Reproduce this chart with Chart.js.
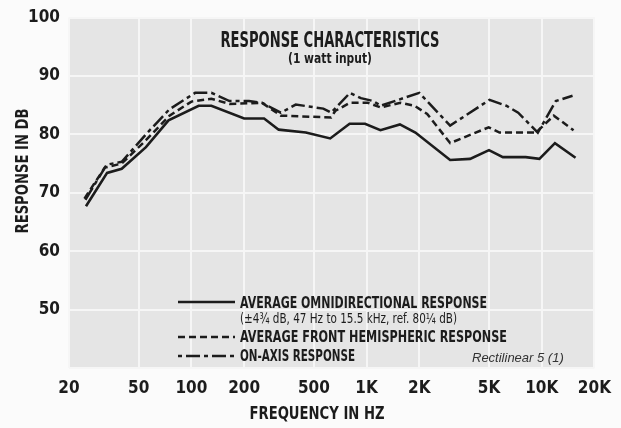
<!DOCTYPE html>
<html>
<head>
<meta charset="utf-8">
<script src="https://cdn.jsdelivr.net/npm/chart.js@4"></script>
<style>
  html, body { margin: 0; padding: 0; background: #fbfbfb; }
  #box { width: 621px; height: 428px; }
</style>
</head>
<body>
<div id="box"><canvas id="myChart" width="621" height="428"></canvas></div>
<script>
// frequency response
const omniFreq = [25, 33, 40, 55, 74, 110, 130, 200, 260, 315, 450, 620, 800, 980, 1200, 1550, 1900, 3000, 3900, 5000, 6000, 8100, 9700, 11900, 15600];
const omniDb   = [67.7, 73.4, 74.1, 77.8, 82.4, 84.9, 84.9, 82.7, 82.7, 80.8, 80.3, 79.3, 81.8, 81.8, 80.7, 81.7, 80.3, 75.6, 75.8, 77.3, 76.1, 76.1, 75.8, 78.5, 76.0];

const frontFreq = [24.5, 32, 40, 55, 75, 100, 130, 165, 253, 324, 628, 662, 804, 1017, 1204, 1562, 1874, 2218, 3000, 4980, 5740, 9280, 11720, 15200];
const frontDb   = [69.0, 74.3, 75.0, 79.0, 83.2, 85.6, 86.1, 85.2, 85.4, 83.2, 82.9, 84.0, 85.4, 85.4, 84.6, 85.4, 84.9, 83.5, 78.5, 81.2, 80.3, 80.3, 83.2, 80.7];

const axisFreq = [24.8, 32.8, 40, 55, 75, 105, 130, 165, 213, 253, 324, 394, 566, 628, 804, 928, 1092, 1204, 2000, 3000, 5036, 6280, 7340, 9500, 12040, 15000];
const axisDb   = [68.8, 74.8, 75.3, 80.0, 84.3, 87.1, 87.1, 85.7, 85.7, 85.4, 83.7, 85.1, 84.4, 83.7, 87.1, 86.2, 85.7, 84.9, 87.1, 81.5, 85.9, 84.9, 83.7, 80.3, 85.7, 86.6];

const xTicks = [20, 50, 100, 200, 500, 1000, 2000, 5000, 10000, 20000];
const xTickLabels = ['20', '50', '100', '200', '500', '1K', '2K', '5K', '10K', '20K'];

const ink = '#1c1c1c';
const narrow = '"Liberation Sans Narrow", "DejaVu Sans Condensed", sans-serif';

function punti(fr, db){
    let out = [];
    for(let i = 0; i < fr.length; i++){
        out.push({x: fr[i], y: db[i]});
    }
    return out;
}

// gray paper behind the grid
const sfondo = {
    id: 'sfondo',
    beforeDraw(chart){
        const {ctx, chartArea: a} = chart;
        ctx.save();
        ctx.fillStyle = '#e5e5e5';
        ctx.fillRect(a.left, a.top, a.right - a.left, a.bottom - a.top);
        ctx.restore();
    }
};

// titles, axis titles and the in-plot key
const scritte = {
    id: 'scritte',
    afterDatasetsDraw(chart){
        const ctx = chart.ctx;
        ctx.save();
        ctx.fillStyle = ink;
        ctx.textBaseline = 'alphabetic';

        ctx.textAlign = 'center';
        ctx.font = 'bold 22px ' + narrow;
        ctx.fillText('RESPONSE CHARACTERISTICS', 330, 47, 219);
        ctx.font = 'bold 14px ' + narrow;
        ctx.fillText('(1 watt input)', 330, 63, 84);

        ctx.font = 'bold 18px ' + narrow;
        ctx.fillText('FREQUENCY IN HZ', 317, 419, 135);

        ctx.save();
        ctx.translate(28, 171);
        ctx.rotate(-Math.PI / 2);
        ctx.fillText('RESPONSE IN DB', 0, 0, 125);
        ctx.restore();

        // key
        ctx.textAlign = 'left';
        ctx.font = 'bold 15px ' + narrow;
        ctx.fillText('AVERAGE OMNIDIRECTIONAL RESPONSE', 240, 308, 247);
        ctx.font = '14px ' + narrow;
        ctx.fillText('(\u00b14\u00be dB, 47 Hz to 15.5 kHz, ref. 80\u00bc dB)', 240, 323, 217);
        ctx.font = 'bold 15px ' + narrow;
        ctx.fillText('AVERAGE FRONT HEMISPHERIC RESPONSE', 240, 342, 267);
        ctx.fillText('ON-AXIS RESPONSE', 240, 361, 115);

        ctx.fillStyle = '#333';
        ctx.font = 'italic 13px "Liberation Sans", sans-serif';
        ctx.fillText('Rectilinear 5 (1)', 472, 362, 110);

        ctx.strokeStyle = ink;
        ctx.lineWidth = 2.4;
        const campioni = [[302, []], [337, [7, 4]], [356, [4, 4, 14, 4]]];
        for(let i = 0; i < campioni.length; i++){
            ctx.setLineDash(campioni[i][1]);
            ctx.beginPath();
            ctx.moveTo(178, campioni[i][0]);
            ctx.lineTo(235, campioni[i][0]);
            ctx.stroke();
        }
        ctx.restore();
    }
};

const ctx = document.getElementById('myChart');

new Chart(ctx, {
    type: 'line',
    data: {
        datasets: [{
            label: 'AVERAGE OMNIDIRECTIONAL RESPONSE',
            data: punti(omniFreq, omniDb),
            borderColor: ink,
            borderWidth: 2.6
        }, {
            label: 'AVERAGE FRONT HEMISPHERIC RESPONSE',
            data: punti(frontFreq, frontDb),
            borderColor: ink,
            borderWidth: 2.5,
            borderDash: [7, 4]
        }, {
            label: 'ON-AXIS RESPONSE',
            data: punti(axisFreq, axisDb),
            borderColor: ink,
            borderWidth: 2.5,
            borderDash: [14, 4, 4, 4]
        }]
    },
    options: {
        responsive: false,
        animation: false,
        events: [],
        layout: {padding: {top: 14, right: 24, left: 0, bottom: 0}},
        elements: {point: {radius: 0}, line: {tension: 0, fill: false}},
        plugins: {legend: {display: false}, tooltip: {enabled: false}},
        scales: {
            x: {
                type: 'logarithmic',
                min: 20,
                max: 20000,
                afterBuildTicks: (scale) => { scale.ticks = xTicks.map(v => ({value: v})); },
                afterFit: (scale) => { scale.height = 60; },
                ticks: {
                    autoSkip: false,
                    maxRotation: 0,
                    padding: 10,
                    color: ink,
                    font: {family: narrow, size: 17, weight: 'bold'},
                    callback: (v) => { let i = xTicks.indexOf(v); return i >= 0 ? xTickLabels[i] : ''; }
                },
                grid: {color: '#f6f6f6', lineWidth: 2, drawTicks: false},
                border: {display: false}
            },
            y: {
                min: 40,
                max: 100,
                afterFit: (scale) => { scale.width = 69; },
                ticks: {
                    stepSize: 10,
                    padding: 9,
                    color: ink,
                    font: {family: narrow, size: 17, weight: 'bold', lineHeight: 1},
                    callback: (v) => v === 40 ? '' : v
                },
                grid: {color: '#f6f6f6', lineWidth: 2, drawTicks: false},
                border: {display: false}
            }
        }
    },
    plugins: [sfondo, scritte]
});
</script>
</body>
</html>
